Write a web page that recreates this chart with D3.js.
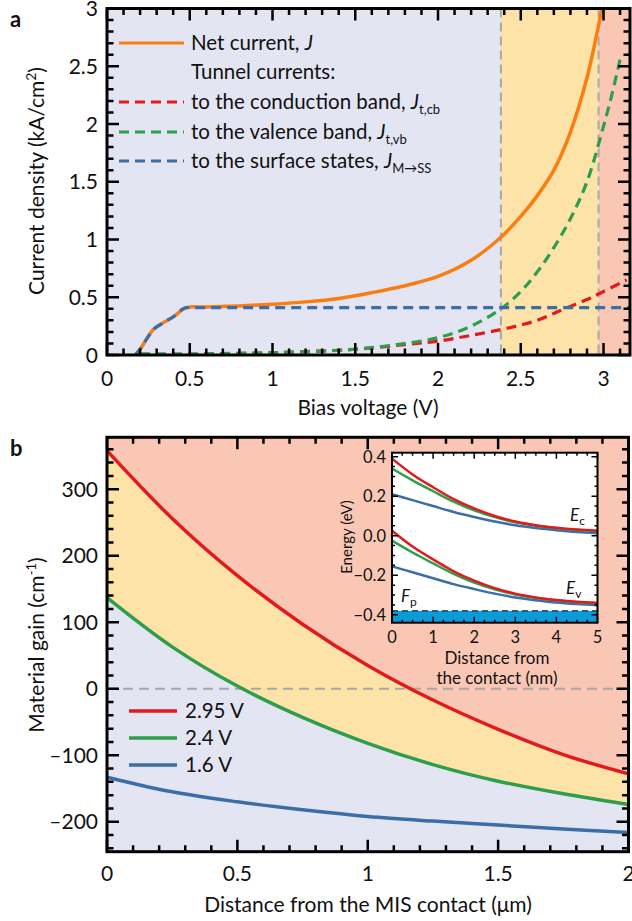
<!DOCTYPE html>
<html>
<head>
<meta charset="utf-8">
<script src="https://cdn.jsdelivr.net/npm/d3@7"></script>
<style>
  body { margin: 0; background: #fff; }
  svg { font-family: Lato, "Open Sans", sans-serif; }
</style>
</head>
<body>
<div id="chart"></div>
<script>
// ---- panel a: current densities vs bias ----
const netVolt = [0.17, 0.2, 0.24, 0.28, 0.33, 0.4, 0.48, 0.6, 0.8, 1.0, 1.2, 1.4, 1.6, 1.8, 2.0, 2.2, 2.38, 2.5, 2.6, 2.7, 2.8, 2.9, 2.99];
const netCurrent = [0, 0.05, 0.14, 0.22, 0.27, 0.33, 0.41, 0.415, 0.425, 0.44, 0.46, 0.49, 0.54, 0.6, 0.68, 0.82, 1.02, 1.2, 1.38, 1.6, 1.93, 2.4, 3.0];
const ssVolt = [0.17, 0.2, 0.24, 0.28, 0.33, 0.4, 0.48, 3.16];
const ssCurrent = [0, 0.05, 0.14, 0.22, 0.27, 0.33, 0.41, 0.41];
const vbVolt = [0.2, 0.5, 1.0, 1.25, 1.5, 1.75, 2.0, 2.2, 2.38, 2.5, 2.6, 2.7, 2.8, 2.9, 3.0, 3.05, 3.1];
const vbCurrent = [0.01, 0.01, 0.02, 0.03, 0.05, 0.09, 0.15, 0.25, 0.4, 0.55, 0.72, 0.93, 1.18, 1.5, 1.98, 2.25, 2.56];
const cbVolt = [0.2, 0.5, 1.0, 1.5, 1.8, 2.0, 2.2, 2.38, 2.5, 2.6, 2.7, 2.78, 2.9, 3.0, 3.14];
const cbCurrent = [0.005, 0.005, 0.02, 0.05, 0.09, 0.12, 0.17, 0.22, 0.26, 0.3, 0.36, 0.41, 0.48, 0.55, 0.65];
const regionEdges = [2.38, 2.97];
const xTicksA = [0, 0.5, 1, 1.5, 2, 2.5, 3];
const yTicksA = [0, 0.5, 1, 1.5, 2, 2.5, 3];

// ---- panel b: material gain vs distance ----
const distance = [0, 0.25, 0.5, 0.75, 1, 1.25, 1.5, 1.75, 2];
const gain295 = [358, 256, 170, 97, 35, -17, -61, -99, -128];
const gain24 = [137, 63, 4, -43, -82, -114, -139, -158, -174];
const gain16 = [-133, -155, -170, -182, -192, -199, -205, -211, -216];
const gainLabels = ["2.95 V", "2.4 V", "1.6 V"];
const xTicksB = [0, 0.5, 1, 1.5, 2];
const yTicksB = [-200, -100, 0, 100, 200, 300];

// ---- inset: band edges ----
const insetDist = [0, 0.5, 1, 1.5, 2, 2.5, 3, 3.5, 4, 4.5, 5];
const ecRed = [0.39, 0.31, 0.245, 0.185, 0.138, 0.1, 0.072, 0.053, 0.04, 0.031, 0.025];
const ecGreen = [0.34, 0.28, 0.225, 0.172, 0.128, 0.094, 0.068, 0.05, 0.038, 0.029, 0.023];
const ecBlue = [0.21, 0.18, 0.15, 0.12, 0.095, 0.072, 0.053, 0.039, 0.028, 0.019, 0.013];
const evRed = [0.025, -0.055, -0.12, -0.18, -0.227, -0.265, -0.293, -0.312, -0.325, -0.334, -0.34];
const evGreen = [-0.025, -0.085, -0.14, -0.193, -0.237, -0.271, -0.297, -0.315, -0.327, -0.336, -0.342];
const evBlue = [-0.155, -0.185, -0.215, -0.245, -0.27, -0.293, -0.312, -0.326, -0.338, -0.346, -0.352];
const fermiLevel = -0.38;
const xTicksI = [0, 1, 2, 3, 4, 5];
const yTicksI = [-0.4, -0.2, 0, 0.2, 0.4];

const col = {
  lav: "#e3e6f2", yel: "#fde3a7", sal: "#fbc7b5",
  orange: "#fb7d12", red: "#e31a1c", green: "#2f9e4c", blue: "#3b6ea8",
  fill: "#0b9bd8", gray: "#a8a8a8"
};

const svg = d3.select("#chart").append("svg")
  .attr("width", 632).attr("height", 921);

function zip(xs, ys) { return xs.map((v, i) => [v, ys[i]]); }

function range(a, b, s) {
  const out = [];
  for (let v = a; v <= b + 1e-9; v += s) out.push(+v.toFixed(4));
  return out;
}

// inward ticks on all four sides, labels on left and bottom
function frame(g, x, y, o) {
  const [x0, x1] = x.range(), [y0, y1] = y.range();
  let p = "";
  o.xMinor.forEach(v => {
    const len = o.xMajor.some(m => Math.abs(m - v) < 1e-6) ? o.major : o.minor;
    const px = x(v);
    p += `M${px},${y0}V${y0 - len}M${px},${y1}V${y1 + len}`;
  });
  o.yMinor.forEach(v => {
    const len = o.yMajor.some(m => Math.abs(m - v) < 1e-6) ? o.major : o.minor;
    const py = y(v);
    p += `M${x0},${py}H${x0 + len}M${x1},${py}H${x1 - len}`;
  });
  g.append("path").attr("d", p).attr("fill", "none")
    .attr("stroke", "#000").attr("stroke-width", o.tickW);
  g.append("rect").attr("x", x0).attr("y", y1)
    .attr("width", x1 - x0).attr("height", y0 - y1)
    .attr("fill", "none").attr("stroke", "#000").attr("stroke-width", o.frameW);
  g.selectAll("text.xl").data(o.xMajor).join("text").attr("class", "xl")
    .attr("x", d => x(d)).attr("y", y0 + o.xBase).attr("text-anchor", "middle")
    .attr("font-size", o.font).attr("fill", "#111").text(o.xFmt);
  g.selectAll("text.yl").data(o.yMajor).join("text").attr("class", "yl")
    .attr("x", x0 - o.yPad).attr("y", d => y(d) + o.font * 0.36).attr("text-anchor", "end")
    .attr("font-size", o.font).attr("fill", "#111").text(o.yFmt);
}

// ================= panel a =================
const xa = d3.scaleLinear().domain([0, 3.16]).range([107, 630]);
const ya = d3.scaleLinear().domain([0, 3]).range([355, 8.5]);
const ga = svg.append("g");

ga.append("clipPath").attr("id", "clipA").append("rect")
  .attr("x", 107).attr("y", 8.5).attr("width", 523).attr("height", 346.5);

const bandsA = [[0, regionEdges[0], col.lav], [regionEdges[0], regionEdges[1], col.yel], [regionEdges[1], 3.16, col.sal]];
ga.selectAll("rect.band").data(bandsA).join("rect").attr("class", "band")
  .attr("x", d => xa(d[0])).attr("width", d => xa(d[1]) - xa(d[0]))
  .attr("y", ya(3)).attr("height", ya(0) - ya(3)).attr("fill", d => d[2]);

ga.selectAll("line.edge").data(regionEdges).join("line").attr("class", "edge")
  .attr("x1", d => xa(d)).attr("x2", d => xa(d))
  .attr("y1", ya(3)).attr("y2", ya(0))
  .attr("stroke", col.gray).attr("stroke-width", 2).attr("stroke-dasharray", "9,5");

const smooth = d3.curveCatmullRom.alpha(0.5);
const lineA = d3.line().x(d => xa(d[0])).y(d => ya(d[1])).curve(smooth);
const lineFlat = d3.line().x(d => xa(d[0])).y(d => ya(d[1])).curve(d3.curveMonotoneX);
const curvesA = ga.append("g").attr("clip-path", "url(#clipA)");
curvesA.append("path").attr("d", lineA(zip(netVolt, netCurrent)))
  .attr("fill", "none").attr("stroke", col.orange).attr("stroke-width", 3.5);
curvesA.append("path").attr("d", lineA(zip(cbVolt, cbCurrent)))
  .attr("fill", "none").attr("stroke", col.red).attr("stroke-width", 3.2).attr("stroke-dasharray", "10,6");
curvesA.append("path").attr("d", lineA(zip(vbVolt, vbCurrent)))
  .attr("fill", "none").attr("stroke", col.green).attr("stroke-width", 3.2).attr("stroke-dasharray", "10,6");
curvesA.append("path").attr("d", lineFlat(zip(ssVolt, ssCurrent)))
  .attr("fill", "none").attr("stroke", col.blue).attr("stroke-width", 3.2).attr("stroke-dasharray", "10,6");

frame(ga, xa, ya, {
  xMajor: xTicksA, xMinor: range(0, 3.1, 0.1), yMajor: yTicksA, yMinor: range(0, 3, 0.1),
  xFmt: d3.format("~g"), yFmt: d3.format("~g"), major: 12, minor: 6.5,
  font: 21, xBase: 31, yPad: 9, tickW: 2.5, frameW: 3
});

// legend a
const legA = [
  { y: 43, c: col.orange, dash: null, t: "Net current, ", j: "J", sub: "" },
  { y: 72, c: null, t: "Tunnel currents:" },
  { y: 102, c: col.red, dash: "10,6", t: "to the conduction band, ", j: "J", sub: "t,cb" },
  { y: 132, c: col.green, dash: "10,6", t: "to the valence band, ", j: "J", sub: "t,vb" },
  { y: 161, c: col.blue, dash: "10,6", t: "to the surface states, ", j: "J", sub: "M\u2192SS" }
];
const la = ga.selectAll("g.leg").data(legA).join("g").attr("class", "leg");
la.filter(d => d.c).append("line")
  .attr("x1", 119).attr("x2", 184).attr("y1", d => d.y).attr("y2", d => d.y)
  .attr("stroke", d => d.c).attr("stroke-width", 3.2)
  .attr("stroke-dasharray", d => d.dash);
const lt = la.append("text").attr("x", 191).attr("y", d => d.y + 7)
  .attr("font-size", 20.5).attr("fill", "#111");
lt.append("tspan").text(d => d.t);
lt.filter(d => d.j).append("tspan").attr("font-style", "italic").text(d => d.j);
lt.filter(d => d.sub).append("tspan").attr("font-size", 13).attr("dy", 5).text(d => d.sub);

svg.append("text").attr("transform", "translate(44,181) rotate(-90)")
  .attr("text-anchor", "middle").attr("font-size", 21).attr("fill", "#111")
  .call(t => {
    t.append("tspan").text("Current density (kA/cm");
    t.append("tspan").attr("font-size", 14).attr("dy", -8).text("2");
    t.append("tspan").attr("dy", 8).text(")");
  });
svg.append("text").attr("x", 368).attr("y", 415).attr("text-anchor", "middle")
  .attr("font-size", 21).attr("fill", "#111").text("Bias voltage (V)");
svg.append("text").attr("x", 10).attr("y", 27).attr("font-size", 22)
  .attr("font-weight", "bold").attr("fill", "#111").text("a");

// ================= panel b =================
const xb = d3.scaleLinear().domain([0, 2]).range([107, 628.5]);
const yb = d3.scaleLinear().domain([-245, 378]).range([851.7, 437.3]);
const gb = svg.append("g");

gb.append("rect").attr("x", 107).attr("y", 437.3).attr("width", 521.5).attr("height", 414.4)
  .attr("fill", col.lav);
const redPts = zip(distance, gain295), greenPts = zip(distance, gain24), bluePts = zip(distance, gain16);
const lineB = d3.line().x(d => xb(d[0])).y(d => yb(d[1])).curve(smooth);
// yellow band between the 2.4 V and 2.95 V curves, salmon above 2.95 V
gb.append("path")
  .attr("d", lineB(redPts) + lineB(greenPts.slice().reverse()).replace(/^M/, "L") + "Z")
  .attr("fill", col.yel);
const areaTop = d3.area().x(d => xb(d[0])).y0(yb(378)).y1(d => yb(d[1])).curve(smooth);
gb.append("path").attr("d", areaTop(redPts)).attr("fill", col.sal);

gb.append("line").attr("x1", xb(0)).attr("x2", xb(2)).attr("y1", yb(0)).attr("y2", yb(0))
  .attr("stroke", col.gray).attr("stroke-width", 2).attr("stroke-dasharray", "10,6");

[[redPts, col.red], [greenPts, col.green], [bluePts, col.blue]].forEach(([pts, c]) => {
  gb.append("path").attr("d", lineB(pts)).attr("fill", "none")
    .attr("stroke", c).attr("stroke-width", 3.5);
});

frame(gb, xb, yb, {
  xMajor: xTicksB, xMinor: range(0, 2, 0.1), yMajor: yTicksB, yMinor: range(-240, 370, 20),
  xFmt: d3.format("~g"), yFmt: d => d < 0 ? "\u2013" + Math.abs(d) : String(d),
  major: 12, minor: 6.5, font: 21, xBase: 29, yPad: 9, tickW: 2.5, frameW: 3
});

const legB = gb.selectAll("g.legb").data([col.red, col.green, col.blue]).join("g").attr("class", "legb");
legB.append("line").attr("x1", 129).attr("x2", 177)
  .attr("y1", (d, i) => 711 + i * 27).attr("y2", (d, i) => 711 + i * 27)
  .attr("stroke", d => d).attr("stroke-width", 3.5);
legB.append("text").attr("x", 185).attr("y", (d, i) => 718 + i * 27)
  .attr("font-size", 20.5).attr("fill", "#111").text((d, i) => gainLabels[i]);

svg.append("text").attr("transform", "translate(44,645) rotate(-90)")
  .attr("text-anchor", "middle").attr("font-size", 21).attr("fill", "#111")
  .call(t => {
    t.append("tspan").text("Material gain (cm");
    t.append("tspan").attr("font-size", 13).attr("dy", -8).text("-1");
    t.append("tspan").attr("dy", 8).text(")");
  });
svg.append("text").attr("x", 368).attr("y", 912).attr("text-anchor", "middle")
  .attr("font-size", 21).attr("fill", "#111").text("Distance from the MIS contact (\u03bcm)");
svg.append("text").attr("x", 10).attr("y", 456).attr("font-size", 22)
  .attr("font-weight", "bold").attr("fill", "#111").text("b");

// ================= inset =================
const xi = d3.scaleLinear().domain([0, 5]).range([392, 597.5]);
const yi = d3.scaleLinear().domain([-0.44, 0.42]).range([622.7, 452.7]);
const gi = svg.append("g");
gi.append("rect").attr("x", 392).attr("y", 452.7).attr("width", 205.5).attr("height", 170)
  .attr("fill", "#fff");
gi.append("rect").attr("x", 392).attr("y", yi(fermiLevel)).attr("width", 205.5)
  .attr("height", yi(-0.44) - yi(fermiLevel)).attr("fill", col.fill);
gi.append("line").attr("x1", 392).attr("x2", 597.5).attr("y1", yi(fermiLevel)).attr("y2", yi(fermiLevel))
  .attr("stroke", "#222").attr("stroke-width", 1.3).attr("stroke-dasharray", "6,4");

const lineI = d3.line().x(d => xi(d[0])).y(d => yi(d[1])).curve(smooth);
[[ecBlue, col.blue], [ecGreen, col.green], [ecRed, col.red],
 [evBlue, col.blue], [evGreen, col.green], [evRed, col.red]].forEach(([vals, c]) => {
  gi.append("path").attr("d", lineI(zip(insetDist, vals))).attr("fill", "none")
    .attr("stroke", c).attr("stroke-width", 2.5);
});

frame(gi, xi, yi, {
  xMajor: xTicksI, xMinor: range(0, 5, 0.25), yMajor: yTicksI, yMinor: range(-0.4, 0.4, 0.05),
  xFmt: d3.format("~g"), yFmt: d3.format(".1f"),
  major: 6, minor: 3, font: 16.5, xBase: 20.5, yPad: 6, tickW: 1.5, frameW: 2
});

function bandLabel(x, y, main, sub) {
  const t = gi.append("text").attr("x", x).attr("y", y).attr("font-size", 17).attr("fill", "#111");
  t.append("tspan").attr("font-style", "italic").text(main);
  t.append("tspan").attr("font-size", 12).attr("dy", 4).text(sub);
}
bandLabel(570, 521, "E", "c");
bandLabel(566, 594, "E", "v");
bandLabel(401, 602, "F", "p");

gi.append("text").attr("transform", "translate(352,537) rotate(-90)")
  .attr("text-anchor", "middle").attr("font-size", 15).attr("fill", "#111").text("Energy (eV)");
gi.append("text").attr("x", 497).attr("y", 664).attr("text-anchor", "middle")
  .attr("font-size", 17).attr("fill", "#111").text("Distance from");
gi.append("text").attr("x", 497).attr("y", 684).attr("text-anchor", "middle")
  .attr("font-size", 17).attr("fill", "#111").text("the contact (nm)");
</script>
</body>
</html>
